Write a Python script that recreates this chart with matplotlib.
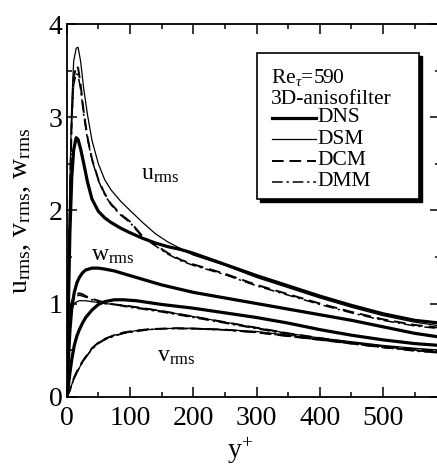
import matplotlib
matplotlib.use("Agg")
import matplotlib.pyplot as plt
from matplotlib.patches import Rectangle
from matplotlib.lines import Line2D
from matplotlib.ticker import MultipleLocator

plt.rcParams['font.family'] = ['Liberation Serif', 'DejaVu Serif']
plt.rcParams['mathtext.fontset'] = 'custom'
plt.rcParams['mathtext.rm'] = 'Liberation Serif'
plt.rcParams['mathtext.it'] = 'Liberation Serif:italic'

# streamwise component
yp_u = [0, 2, 5, 8, 11, 15, 18, 22, 27, 33, 40, 50, 60, 70, 85, 100, 120, 140,
        160, 180, 200, 250, 300, 350, 400, 450, 500, 550, 590]
u_dns = [0, 0.72, 1.75, 2.35, 2.65, 2.78, 2.76, 2.66, 2.5, 2.3, 2.12, 1.99, 1.92,
         1.87, 1.81, 1.76, 1.7, 1.65, 1.61, 1.58, 1.54, 1.42, 1.3, 1.19, 1.08, 0.98,
         0.89, 0.82, 0.79]
u_dsm = [0, 0.95, 2.3, 3.15, 3.6, 3.74, 3.75, 3.6, 3.3, 3.02, 2.75, 2.5, 2.33,
         2.22, 2.1, 2.0, 1.87, 1.75, 1.66, 1.59, 1.52, 1.41, 1.28, 1.17, 1.06,
         0.96, 0.87, 0.8, 0.76]
u_dcm = [0, 0.85, 2.1, 3.0, 3.42, 3.55, 3.53, 3.35, 3.05, 2.78, 2.55, 2.33, 2.18,
         2.07, 1.96, 1.88, 1.72, 1.63, 1.54, 1.47, 1.42, 1.32, 1.2, 1.1, 1.0,
         0.91, 0.83, 0.77, 0.74]
u_dmm = [0, 0.85, 2.05, 2.95, 3.35, 3.47, 3.45, 3.3, 3.02, 2.76, 2.54, 2.32, 2.17,
         2.06, 1.95, 1.87, 1.71, 1.62, 1.53, 1.46, 1.41, 1.31, 1.19, 1.09, 0.99,
         0.9, 0.82, 0.76, 0.73]

# wall-normal and spanwise components
yp_l = [0, 2, 5, 8, 12, 16, 20, 25, 30, 40, 50, 60, 75, 90, 110, 130, 150, 175,
        200, 250, 300, 350, 400, 450, 500, 550, 590]
w_dns = [0, 0.3, 0.7, 0.95, 1.12, 1.22, 1.28, 1.33, 1.36, 1.38, 1.38, 1.37, 1.35,
         1.32, 1.28, 1.24, 1.2, 1.16, 1.12, 1.06, 1.0, 0.94, 0.88, 0.82, 0.75,
         0.68, 0.64]
v_dns = [0, 0.08, 0.25, 0.4, 0.55, 0.65, 0.72, 0.79, 0.85, 0.93, 0.99, 1.02, 1.04,
         1.04, 1.03, 1.01, 0.99, 0.97, 0.95, 0.9, 0.85, 0.79, 0.72, 0.66, 0.61,
         0.57, 0.55]
w_dsm = [0, 0.45, 0.8, 0.93, 1.0, 1.02, 1.03, 1.03, 1.03, 1.02, 1.01, 1.0, 0.99,
         0.98, 0.96, 0.94, 0.92, 0.89, 0.86, 0.8, 0.74, 0.68, 0.63, 0.59, 0.55,
         0.52, 0.5]
w_dcm = [0, 0.5, 0.88, 1.02, 1.08, 1.1, 1.11, 1.1, 1.08, 1.05, 1.03, 1.01, 0.99,
         0.98, 0.96, 0.94, 0.92, 0.89, 0.86, 0.8, 0.74, 0.68, 0.63, 0.58, 0.54,
         0.51, 0.49]
w_dmm = [0, 0.48, 0.85, 0.99, 1.06, 1.08, 1.09, 1.08, 1.07, 1.04, 1.02, 1.0, 0.99,
         0.97, 0.95, 0.93, 0.91, 0.88, 0.85, 0.79, 0.73, 0.67, 0.62, 0.57, 0.53,
         0.5, 0.48]
v_dsm = [0, 0.02, 0.07, 0.13, 0.2, 0.26, 0.31, 0.37, 0.42, 0.52, 0.58, 0.62, 0.66,
         0.68, 0.71, 0.72, 0.73, 0.735, 0.735, 0.72, 0.7, 0.66, 0.62, 0.58, 0.54,
         0.5, 0.48]
v_dcm = [0, 0.02, 0.07, 0.14, 0.21, 0.27, 0.32, 0.38, 0.43, 0.52, 0.58, 0.62, 0.66,
         0.69, 0.71, 0.725, 0.73, 0.735, 0.73, 0.72, 0.69, 0.65, 0.61, 0.57, 0.53,
         0.5, 0.47]
v_dmm = [0, 0.02, 0.07, 0.13, 0.2, 0.26, 0.31, 0.37, 0.42, 0.51, 0.57, 0.61, 0.65,
         0.68, 0.7, 0.72, 0.73, 0.73, 0.73, 0.715, 0.69, 0.65, 0.61, 0.57, 0.53,
         0.49, 0.47]

W, H = 437, 467
fig = plt.figure(figsize=(W / 100, H / 100), dpi=100)
ax = fig.add_axes([66.7 / W, 70.3 / H, 373.3 / W, 372.7 / H])

sty = {
    'DNS': dict(color='k', lw=2.3, ls='-'),
    'DSM': dict(color='k', lw=0.9, ls='-'),
    'DCM': dict(color='k', lw=1.4, ls=(0, (6, 3))),
    'DMM': dict(color='k', lw=1.1, ls=(0, (7, 2.5, 1.5, 2.5))),
}

for y, key in [(u_dns, 'DNS'), (u_dsm, 'DSM'), (u_dcm, 'DCM'), (u_dmm, 'DMM')]:
    ax.plot(yp_u, y, **sty[key])
for y, key in [(w_dns, 'DNS'), (v_dns, 'DNS'), (w_dsm, 'DSM'), (w_dcm, 'DCM'),
               (w_dmm, 'DMM'), (v_dsm, 'DSM'), (v_dcm, 'DCM'), (v_dmm, 'DMM')]:
    ax.plot(yp_l, y, **sty[key])

ax.set_xlim(0, 590)
ax.set_ylim(0, 4)
ax.xaxis.set_major_locator(MultipleLocator(100))
ax.xaxis.set_minor_locator(MultipleLocator(50))
ax.yaxis.set_major_locator(MultipleLocator(1))
ax.yaxis.set_minor_locator(MultipleLocator(0.5))
ax.tick_params(which='both', direction='in', top=True, right=True, labelsize=20,
               width=1.1)
ax.tick_params(which='major', length=7)
ax.tick_params(which='minor', length=3.5)
ax.tick_params(axis='x', pad=7)
ax.tick_params(axis='y', pad=3)
for s in ax.spines.values():
    s.set_linewidth(1.3)

ax.set_xlabel('y$^{+}$', fontsize=20, va='center')
ax.xaxis.set_label_coords(0.465, -0.145)
ax.set_ylabel('u$_{\\rm rms}$, v$_{\\rm rms}$, w$_{\\rm rms}$', fontsize=20,
              va='center')
ax.yaxis.set_label_coords(-0.125, 0.5)

ax.text(148, 2.38, 'u$_{\\rm rms}$', fontsize=17, ha='center', va='center')
ax.text(73, 1.52, 'w$_{\\rm rms}$', fontsize=17, ha='center', va='center')
ax.text(173, 0.43, 'v$_{\\rm rms}$', fontsize=17, ha='center', va='center')

# legend box with drop shadow
def fx(px):
    return px / W

def fy(py):
    return 1 - py / H

bx0, by0, bx1, by1 = 257, 53, 419, 199
fig.add_artist(Rectangle((fx(bx0 + 3), fy(by1 + 3)), fx(bx1 - bx0), (by1 - by0) / H,
                         transform=fig.transFigure, facecolor='k', edgecolor='k'))
fig.add_artist(Rectangle((fx(bx0), fy(by1)), fx(bx1 - bx0), (by1 - by0) / H,
                         transform=fig.transFigure, facecolor='w', edgecolor='k',
                         lw=1.2))
fig.text(fx(271), fy(78), 'Re$_{\\tau}$=590', fontsize=15.5, va='center')
fig.text(fx(271), fy(99), '3D-anisofilter', fontsize=15.5, va='center')
for i, key in enumerate(['DNS', 'DSM', 'DCM', 'DMM']):
    yy = [118, 139, 161, 182][i]
    fig.add_artist(Line2D([fx(272), fx(316)], [fy(yy), fy(yy)],
                          transform=fig.transFigure, **sty[key]))
    fig.text(fx(317), fy(yy), key, fontsize=15.5, va='center')

fig.savefig('out.png', dpi=100)
